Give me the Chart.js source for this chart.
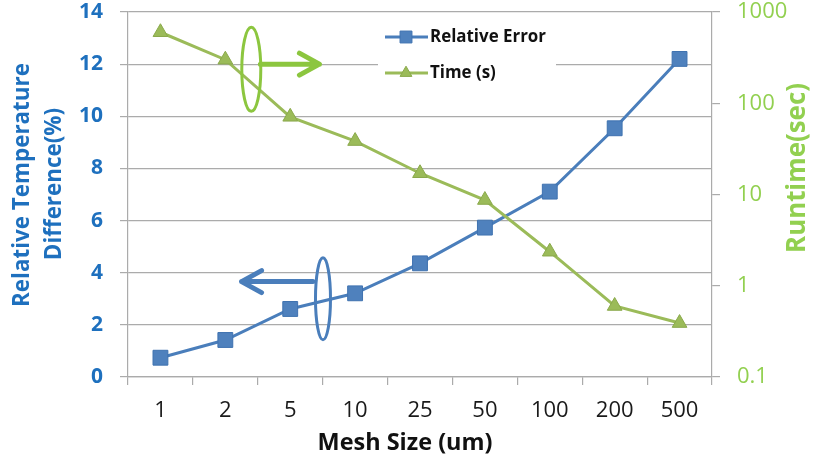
<!DOCTYPE html>
<html><head><meta charset="utf-8">
<script src="https://cdn.jsdelivr.net/npm/chart.js@4/dist/chart.umd.min.js"></script>
<style>html,body{margin:0;padding:0;background:#fff}#wrap{width:816px;height:464px}</style>
</head><body><div id="wrap"><canvas id="c" width="816" height="464"></canvas></div>
<script>
// ---- data ----
const meshSizes = ['1','2','5','10','25','50','100','200','500'];
const relativeError = [0.74, 1.42, 2.61, 3.21, 4.36, 5.73, 7.11, 9.54, 12.2];
const runtimeSec = [600, 300, 71, 38.5, 17.1, 8.7, 2.36, 0.60, 0.39];
const leftTicks = [0, 2, 4, 6, 8, 10, 12, 14];
const rightTicks = [0.1, 1, 10, 100, 1000];
const seriesNames = ['Relative Error', 'Time (s)'];
const xTitle = 'Mesh Size (um)';
const leftTitle = ['Relative Temperature', 'Difference(%)'];
const rightTitle = 'Runtime(sec)';

// ---- styles ----
const FONT = "'Open Sans', sans-serif";
const BLUE = '#4F81BD', BLUE_LINE = '#4A7EBB', BLUE_TXT = '#1E70BE';
const GREEN = '#9BBB59', GREEN_TXT = '#92D050', GREEN_ANN = '#8CC63F';
const GRID = '#ABABAB';

// annotation marks (ellipse + arrow), in scale units
const annotations = [
  {color: GREEN_ANN, ellipse: {x: 1.4, y: 11.8, rx: 9.5, ry: 42}, arrow: {x0: 1.54, x1: 2.45, y: 12}},
  {color: BLUE_LINE, ellipse: {x: 2.505, y: 3.0, rx: 7.5, ry: 41}, arrow: {x0: 2.35, x1: 1.25, y: 3.66}}
];

function fitFont(ctx, text, width, weight) {
  ctx.font = weight + ' 20px ' + FONT;
  const w = ctx.measureText(text).width;
  return weight + ' ' + (20 * width / w).toFixed(2) + 'px ' + FONT;
}

function noPad(s) { s.paddingTop = 0; s.paddingBottom = 0; }

const overlay = {
  id: 'overlay',
  afterDatasetsDraw(chart) {
    const ctx = chart.ctx, xs = chart.scales.x, ys = chart.scales.y;
    ctx.save();
    annotations.forEach(a => {
      ctx.strokeStyle = a.color;
      ctx.lineCap = 'round';
      ctx.lineJoin = 'round';
      const ex = xs.getPixelForValue(a.ellipse.x), ey = ys.getPixelForValue(a.ellipse.y);
      ctx.lineWidth = 3;
      ctx.beginPath();
      ctx.ellipse(ex, ey, a.ellipse.rx, a.ellipse.ry, 0, 0, Math.PI * 2);
      ctx.stroke();
      const x0 = xs.getPixelForValue(a.arrow.x0), x1 = xs.getPixelForValue(a.arrow.x1), y = ys.getPixelForValue(a.arrow.y);
      const dir = Math.sign(x1 - x0);
      ctx.lineWidth = 5;
      ctx.beginPath();
      ctx.moveTo(x0, y); ctx.lineTo(x1, y);
      ctx.moveTo(x1 - dir * 20, y - 11); ctx.lineTo(x1, y); ctx.lineTo(x1 - dir * 20, y + 11);
      ctx.stroke();
    });
    ctx.restore();
  },
  afterDraw(chart) {
    const ctx = chart.ctx;
    ctx.save();
    // legend
    ctx.fillStyle = '#fff';
    ctx.fillRect(378, 22, 178, 66);
    const dss = chart.data.datasets;
    const rows = [37, 73];
    dss.forEach((ds, i) => {
      const y = rows[i];
      ctx.strokeStyle = ds.borderColor;
      ctx.lineWidth = 3;
      ctx.beginPath(); ctx.moveTo(385, y); ctx.lineTo(428, y); ctx.stroke();
      ctx.fillStyle = ds.pointBackgroundColor; ctx.strokeStyle = ds.pointBorderColor; ctx.lineWidth = 1;
      ctx.beginPath();
      if (ds.pointStyle === 'rect') { const s = ds.pointRadius * 0.8 * Math.SQRT1_2; ctx.rect(406 - s, y - s, 2 * s, 2 * s); }
      else { const r = ds.pointRadius * 0.8; ctx.moveTo(406, y - r); ctx.lineTo(406 + r * 0.866, y + r / 2); ctx.lineTo(406 - r * 0.866, y + r / 2); ctx.closePath(); }
      ctx.fill(); ctx.stroke();
      ctx.fillStyle = '#111';
      ctx.textBaseline = 'middle'; ctx.textAlign = 'left';
      ctx.font = fitFont(ctx, seriesNames[0], 116, 'bold');
      ctx.fillText(seriesNames[i], 430, y);
    });
    // axis titles
    ctx.textAlign = 'center'; ctx.textBaseline = 'middle';
    ctx.fillStyle = '#111';
    ctx.font = fitFont(ctx, xTitle, 175, 'bold');
    ctx.fillText(xTitle, 405, 443);
    ctx.fillStyle = BLUE_TXT;
    ctx.font = fitFont(ctx, leftTitle[0], 244, 'bold');
    ctx.save(); ctx.translate(23, 185); ctx.rotate(-Math.PI / 2); ctx.fillText(leftTitle[0], 0, 0); ctx.restore();
    ctx.save(); ctx.translate(55, 184); ctx.rotate(-Math.PI / 2); ctx.fillText(leftTitle[1], 0, 0); ctx.restore();
    ctx.fillStyle = GREEN_TXT;
    ctx.font = fitFont(ctx, rightTitle, 170, 'bold');
    ctx.save(); ctx.translate(798, 168); ctx.rotate(-Math.PI / 2); ctx.fillText(rightTitle, 0, 0); ctx.restore();
    ctx.restore();
  }
};

new Chart(document.getElementById('c'), {
  type: 'line',
  data: {
    labels: meshSizes,
    datasets: [
      {label: seriesNames[0], data: relativeError, yAxisID: 'y', order: 1,
       borderColor: BLUE_LINE, backgroundColor: BLUE, borderWidth: 3,
       pointStyle: 'rect', pointRadius: 10.5, pointBorderColor: '#3F72B0', pointBorderWidth: 1, pointBackgroundColor: BLUE, tension: 0},
      {label: seriesNames[1], data: runtimeSec, yAxisID: 'y1', order: 0,
       borderColor: GREEN, backgroundColor: GREEN, borderWidth: 3,
       pointStyle: 'triangle', pointRadius: 8.5, pointBorderColor: '#8AA94B', pointBorderWidth: 1, pointBackgroundColor: GREEN, tension: 0}
    ]
  },
  options: {
    responsive: false, animation: false, devicePixelRatio: 1,
    layout: {padding: {top: 12, left: 0, right: 0, bottom: 0}},
    plugins: {legend: {display: false}, tooltip: {enabled: false}},
    scales: {
      x: {
        type: 'category', offset: true,
        grid: {offset: true, drawOnChartArea: false, drawTicks: true, tickLength: 8, color: GRID, lineWidth: 1.2},
        border: {color: GRID, width: 1.2},
        ticks: {font: {family: FONT, size: 22}, color: '#1a1a1a', padding: 13, maxRotation: 0, autoSkip: false},
        afterFit(s) { s.height = 87; s.paddingLeft = 0; s.paddingRight = 0; }
      },
      y: {
        position: 'left', min: 0, max: 14,
        afterBuildTicks(s) { s.ticks = leftTicks.map(v => ({value: v})); },
        grid: {color: GRID, lineWidth: 1.2, tickLength: 8},
        border: {color: GRID, width: 1.2},
        ticks: {font: {family: FONT, size: 21, weight: 'bold'}, color: BLUE_TXT, padding: 17},
        afterFit(s) { s.width = 128; noPad(s); }
      },
      y1: {
        type: 'logarithmic', position: 'right', min: 0.1, max: 1000,
        afterBuildTicks(s) { s.ticks = rightTicks.map(v => ({value: v})); },
        grid: {drawOnChartArea: false, color: GRID, lineWidth: 1.2, tickLength: 8},
        border: {color: GRID, width: 1.2},
        ticks: {font: {family: FONT, size: 22}, color: GREEN_TXT, padding: 17, callback: v => String(v)},
        afterFit(s) { s.width = 104; noPad(s); }
      }
    }
  },
  plugins: [overlay]
});
</script>
</body></html>
